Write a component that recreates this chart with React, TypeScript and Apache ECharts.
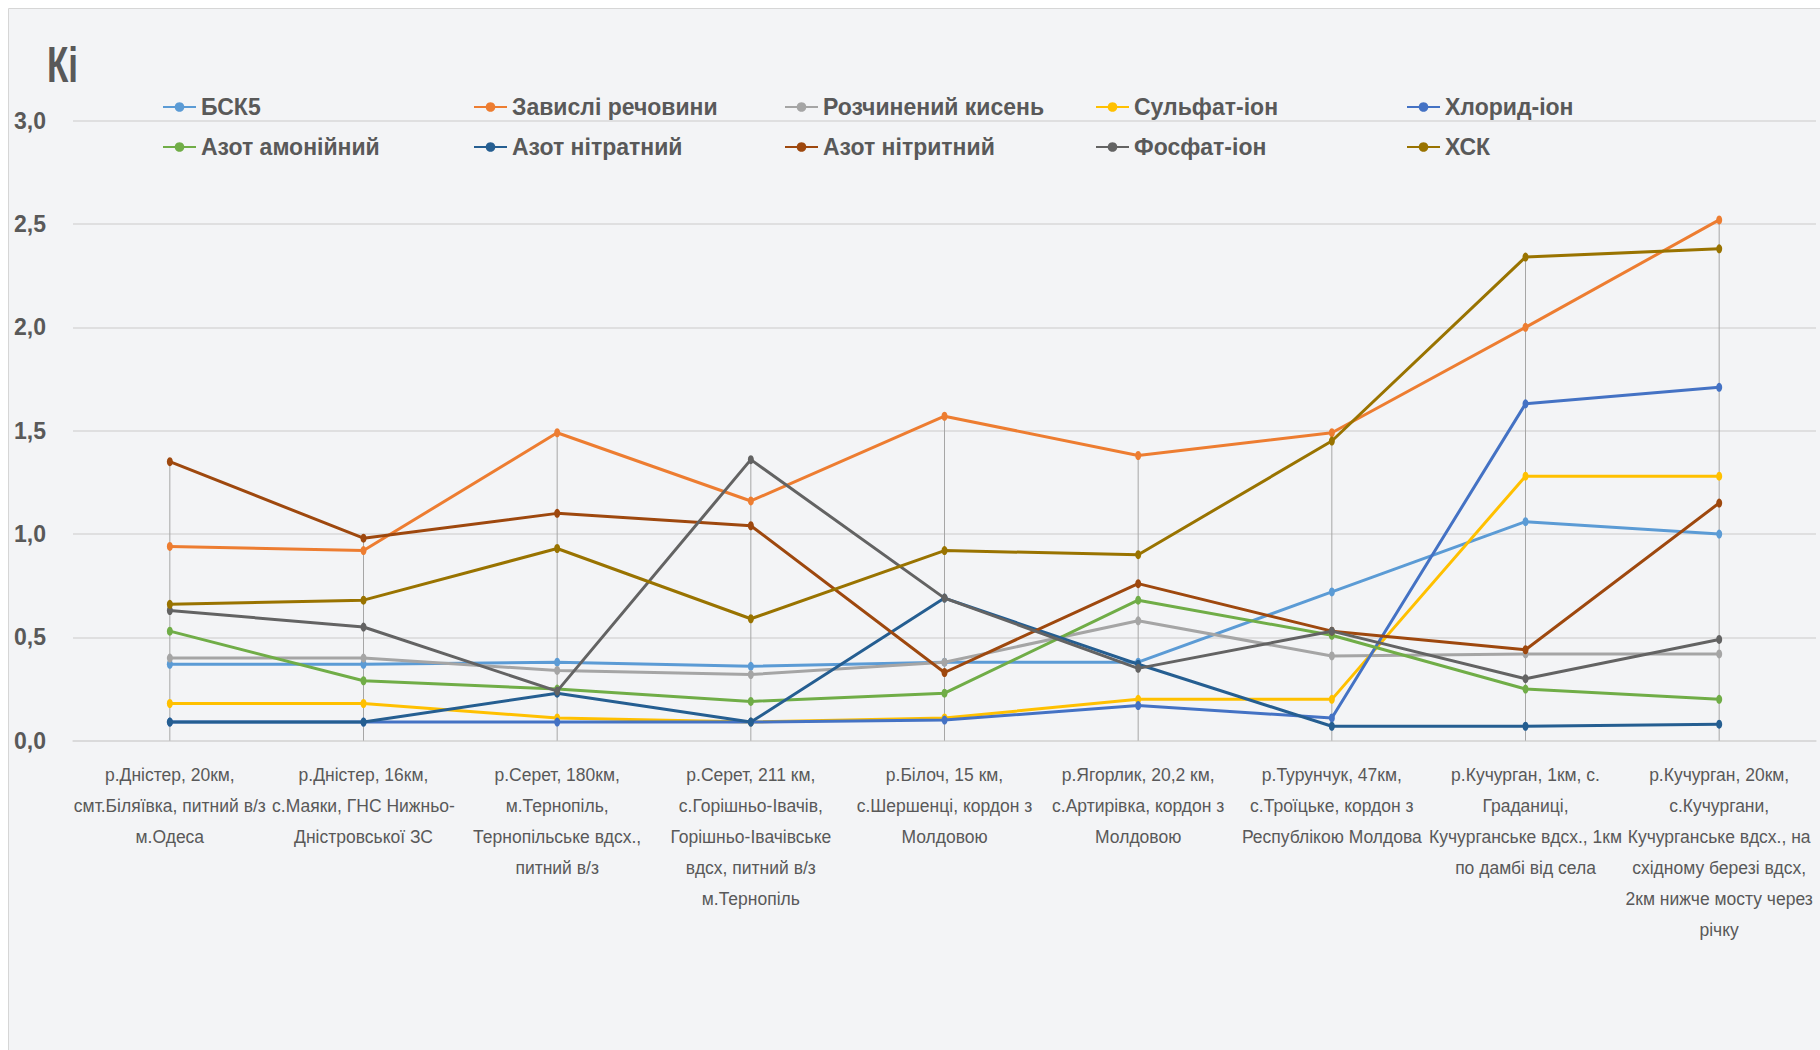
import React, { useEffect, useRef } from "react";
import * as echarts from "echarts";

const categories = [
  "р.Дністер, 20км,\nсмт.Біляївка, питний в/з\nм.Одеса",
  "р.Дністер, 16км,\nс.Маяки, ГНС Нижньо-\nДністровської ЗС",
  "р.Серет, 180км,\nм.Тернопіль,\nТернопільське вдсх.,\nпитний в/з",
  "р.Серет, 211 км,\nс.Горішньо-Івачів,\nГорішньо-Івачівське\nвдсх, питний в/з\nм.Тернопіль",
  "р.Білоч, 15 км,\nс.Шершенці, кордон з\nМолдовою",
  "р.Ягорлик, 20,2 км,\nс.Артирівка, кордон з\nМолдовою",
  "р.Турунчук, 47км,\nс.Троїцьке, кордон з\nРеспублікою Молдова",
  "р.Кучурган, 1км, с.\nГраданиці,\nКучурганське вдсх., 1км\nпо дамбі від села",
  "р.Кучурган, 20км,\nс.Кучургани,\nКучурганське вдсх., на\nсхідному березі вдсх,\n2км нижче мосту через\nрічку",
];

const seriesNames = [
  "БСК5",
  "Завислі речовини",
  "Розчинений кисень",
  "Сульфат-іон",
  "Хлорид-іон",
  "Азот амонійний",
  "Азот нітратний",
  "Азот нітритний",
  "Фосфат-іон",
  "ХСК",
];

const bsk5 = [0.37, 0.37, 0.38, 0.36, 0.38, 0.38, 0.72, 1.06, 1.0];
const zavysli = [0.94, 0.92, 1.49, 1.16, 1.57, 1.38, 1.49, 2.0, 2.52];
const kysen = [0.4, 0.4, 0.34, 0.32, 0.38, 0.58, 0.41, 0.42, 0.42];
const sulfat = [0.18, 0.18, 0.11, 0.09, 0.11, 0.2, 0.2, 1.28, 1.28];
const khlorid = [0.09, 0.09, 0.09, 0.09, 0.1, 0.17, 0.11, 1.63, 1.71];
const amoniy = [0.53, 0.29, 0.25, 0.19, 0.23, 0.68, 0.51, 0.25, 0.2];
const nitrat = [0.09, 0.09, 0.23, 0.09, 0.69, 0.37, 0.07, 0.07, 0.08];
const nitryt = [1.35, 0.98, 1.1, 1.04, 0.33, 0.76, 0.53, 0.44, 1.15];
const fosfat = [0.63, 0.55, 0.24, 1.36, 0.69, 0.35, 0.53, 0.3, 0.49];
const khsk = [0.66, 0.68, 0.93, 0.59, 0.92, 0.9, 1.45, 2.34, 2.38];

const seriesValues = [bsk5, zavysli, kysen, sulfat, khlorid, amoniy, nitrat, nitryt, fosfat, khsk];

const colors = [
  "#5B9BD5",
  "#ED7D31",
  "#A5A5A5",
  "#FFC000",
  "#4472C4",
  "#70AD47",
  "#255E91",
  "#9E480E",
  "#636363",
  "#997300",
];

const yTicks = [0, 0.5, 1, 1.5, 2, 2.5, 3];

const FONT = '"Liberation Sans", Arial, sans-serif';
const TEXT = "#595959";

export default function App() {
  const ref = useRef<HTMLDivElement>(null);

  useEffect(() => {
    if (!ref.current) return;
    const chart = echarts.init(ref.current, undefined, { renderer: "svg" });

    const legendX = [162, 473, 784, 1095, 1406];
    const legendY = [94, 134];

    const dropData = categories.map((_, i) => [
      i,
      Math.max(...seriesValues.map((s) => s[i])),
    ]);

    const option: any = {
      animation: false,
      backgroundColor: "#ffffff",
      textStyle: { fontFamily: FONT },
      graphic: [
        {
          type: "rect",
          z: -100,
          silent: true,
          shape: { x: 8.5, y: 8.5, width: 1830, height: 1060 },
          style: { fill: "#f3f4f6", stroke: "#d6d6d6", lineWidth: 1 },
        },
        {
          type: "text",
          x: 47,
          y: 40,
          scaleX: 0.7,
          style: {
            text: "Кі",
            fill: TEXT,
            fontSize: 50,
            fontWeight: "bold",
            fontFamily: FONT,
            align: "left",
            verticalAlign: "top",
          },
        },
      ],
      legend: seriesNames.map((n, i) => ({
        data: [n],
        left: legendX[i % 5],
        top: legendY[Math.floor(i / 5)],
        padding: 0,
        itemWidth: 33,
        itemHeight: 12,
        selectedMode: false,
        textStyle: {
          fontSize: 23,
          fontWeight: "bold",
          color: TEXT,
          fontFamily: FONT,
          lineHeight: 26,
        },
      })),
      grid: {
        left: 73,
        right: 4,
        top: 120.7,
        bottom: 309.3,
        containLabel: false,
      },
      xAxis: {
        type: "category",
        data: categories,
        boundaryGap: true,
        axisLine: { show: true, lineStyle: { color: "#d9d9d9", width: 1.5 } },
        axisTick: { show: false },
        axisLabel: {
          interval: 0,
          color: TEXT,
          fontSize: 17.5,
          lineHeight: 31,
          margin: 19,
          fontFamily: FONT,
          align: "center",
        },
        splitLine: { show: false },
      },
      yAxis: {
        type: "value",
        min: yTicks[0],
        max: yTicks[yTicks.length - 1],
        interval: 0.5,
        axisLine: { show: false },
        axisTick: { show: false },
        axisLabel: {
          color: TEXT,
          fontSize: 23,
          fontWeight: "bold",
          margin: 27,
          fontFamily: FONT,
          formatter: (v: number) => v.toFixed(1).replace(".", ","),
        },
        splitLine: { show: true, lineStyle: { color: "#d9d9d9", width: 1.5 } },
      },
      series: [
        {
          type: "custom",
          name: "drop",
          z: 1,
          silent: true,
          data: dropData,
          encode: { x: 0, y: 1 },
          renderItem: (params: any, api: any) => {
            const x = api.value(0);
            const top = api.coord([x, api.value(1)]);
            const bot = api.coord([x, 0]);
            return {
              type: "line",
              shape: { x1: top[0], y1: top[1], x2: bot[0], y2: bot[1] },
              style: { stroke: "#a6a6a6", lineWidth: 1 },
            };
          },
        },
        ...seriesNames.map((n, i) => ({
          type: "line",
          name: n,
          data: seriesValues[i],
          z: 2 + i * 0.01,
          color: colors[i],
          symbol: "circle",
          symbolSize: [6, 9],
          showSymbol: true,
          lineStyle: { color: colors[i], width: 3 },
          itemStyle: { color: colors[i] },
        })),
      ],
    };

    chart.setOption(option);
    return () => chart.dispose();
  }, []);

  return (
    <div
      ref={ref}
      style={{ position: "fixed", left: 0, top: 0, width: 1820, height: 1050 }}
    />
  );
}
